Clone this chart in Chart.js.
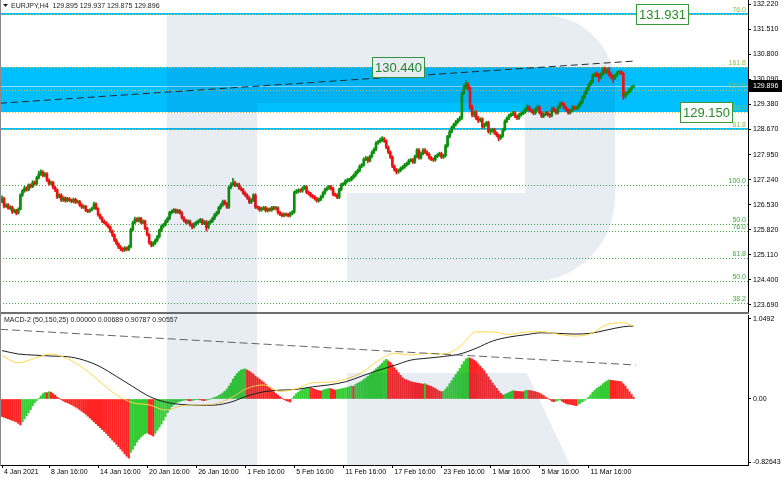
<!DOCTYPE html>
<html>
<head>
<meta charset="utf-8">
<title>EURJPY H4</title>
<script src="https://cdn.jsdelivr.net/npm/chart.js@4.4.1/dist/chart.umd.min.js"></script>
<style>
  body { margin: 0; background: #fff; }
  #wrap { position: relative; width: 782px; height: 478px; overflow: hidden; background: #fff; }
  #price, #macd, #mark { position: absolute; left: 0; }
  #price { top: 0; }
  #macd { top: 314px; }
  #mark { top: 0; pointer-events: none; }
  #sep { position: absolute; left: 0; top: 312px; width: 749px; height: 2px; background: #6f6f6f; }
  #edge { position: absolute; left: 0; top: 0; width: 1px; height: 466px; background: #8a8a8a; }
</style>
</head>
<body>
<div id="wrap">
  <canvas id="price" width="782" height="312"></canvas>
  <div id="sep"></div>
  <canvas id="macd" width="782" height="164"></canvas>
  <div id="edge"></div>
  <canvas id="mark" width="782" height="478"></canvas>
</div>
<script>
// EURJPY H4 candles, one value per bar (open = previous close)
const firstOpen = 126.62;
const closes = [
  126.70,126.48,126.52,126.43,126.46,126.33,126.37,126.29,126.40,126.80,
  126.92,127.00,126.95,127.09,127.04,127.17,127.12,127.30,127.40,127.46,
  127.36,127.40,127.22,127.12,127.16,127.02,126.95,126.75,126.80,126.66,
  126.72,126.64,126.70,126.66,126.62,126.68,126.60,126.62,126.52,126.46,
  126.48,126.36,126.34,126.38,126.42,126.55,126.42,126.24,126.16,126.06,
  126.02,125.96,125.90,125.78,125.67,125.52,125.42,125.33,125.28,125.24,
  125.30,125.26,125.34,125.82,126.02,126.12,126.08,126.14,126.02,126.06,
  125.86,125.68,125.45,125.38,125.44,125.52,125.62,125.80,125.92,125.96,
  126.06,126.14,126.30,126.34,126.38,126.32,126.36,126.30,126.16,126.08,
  126.02,126.06,125.96,125.90,125.98,126.02,126.06,126.10,126.00,126.04,
  125.88,126.02,126.06,126.14,126.24,126.30,126.44,126.52,126.62,126.56,
  126.46,127.02,127.10,127.15,127.08,127.10,127.00,126.96,126.86,126.80,
  126.72,126.60,126.66,126.80,126.46,126.44,126.38,126.42,126.44,126.36,
  126.40,126.38,126.44,126.42,126.44,126.30,126.26,126.22,126.26,126.24,
  126.22,126.28,126.32,126.88,126.90,126.94,126.92,127.00,127.04,126.88,
  126.84,126.78,126.75,126.70,126.64,126.68,126.75,126.86,126.96,127.00,
  127.04,126.98,126.82,126.80,126.74,126.96,127.10,127.12,127.20,127.23,
  127.24,127.30,127.36,127.44,127.50,127.62,127.66,127.82,127.85,127.78,
  127.90,128.02,128.10,128.28,128.32,128.36,128.40,128.34,128.16,128.02,
  127.88,127.62,127.52,127.46,127.50,127.56,127.60,127.66,127.70,127.78,
  127.80,127.74,127.90,128.08,127.86,127.98,128.08,128.02,127.96,127.86,
  127.82,127.80,127.90,127.94,127.98,127.88,127.92,128.20,128.46,128.60,
  128.72,128.80,128.88,128.94,128.99,129.70,129.88,129.96,129.84,129.30,
  129.08,129.14,128.98,128.92,128.96,128.74,128.80,128.86,128.60,128.64,
  128.66,128.56,128.50,128.42,128.48,128.66,128.90,128.98,129.06,129.10,
  129.13,129.04,128.99,129.08,129.12,129.16,129.24,129.30,129.22,129.18,
  129.13,129.24,129.30,129.14,129.04,129.10,129.14,129.08,129.06,129.26,
  129.20,129.14,129.30,129.40,129.38,129.28,129.22,129.14,129.20,129.30,
  129.26,129.28,129.36,129.44,129.58,129.70,129.82,129.94,130.02,130.20,
  130.22,130.20,130.14,130.24,130.36,130.30,130.34,130.22,130.16,130.12,
  130.20,130.28,130.30,130.26,129.60,129.68,129.72,129.80,129.86,129.896
];
const highs = [
  126.78,126.74,126.56,126.56,126.50,126.49,126.41,126.40,126.44,126.84,
  126.96,127.05,127.04,127.12,127.12,127.21,127.20,127.34,127.48,127.52,
  127.50,127.44,127.44,127.26,127.20,127.19,127.06,126.98,126.84,126.84,
  126.76,126.75,126.74,126.73,126.69,126.72,126.71,126.66,126.65,126.56,
  126.52,126.51,126.40,126.41,126.46,126.60,126.58,126.45,126.27,126.19,
  126.10,126.05,125.99,125.93,125.81,125.70,125.56,125.45,125.37,125.31,
  125.34,125.33,125.38,125.86,126.06,126.18,126.16,126.18,126.17,126.10,
  126.09,125.89,125.71,125.49,125.48,125.56,125.66,125.84,125.96,126.00,
  126.10,126.18,126.34,126.38,126.42,126.41,126.40,126.39,126.33,126.19,
  126.11,126.10,126.09,126.00,126.02,126.06,126.10,126.14,126.13,126.08,
  126.08,126.06,126.10,126.18,126.28,126.34,126.48,126.56,126.66,126.66,
  126.60,127.06,127.16,127.28,127.20,127.14,127.14,127.04,126.99,126.90,
  126.84,126.76,126.70,126.84,126.84,126.50,126.48,126.46,126.48,126.48,
  126.44,126.44,126.48,126.48,126.48,126.47,126.34,126.30,126.30,126.29,
  126.28,126.32,126.36,126.92,126.96,126.98,126.98,127.04,127.08,127.07,
  126.92,126.88,126.82,126.79,126.74,126.72,126.79,126.90,127.00,127.04,
  127.08,127.08,127.02,126.86,126.84,127.00,127.14,127.16,127.24,127.27,
  127.28,127.34,127.40,127.48,127.54,127.66,127.70,127.86,127.90,127.89,
  127.94,128.06,128.14,128.32,128.36,128.42,128.46,128.44,128.37,128.20,
  128.06,127.92,127.66,127.56,127.54,127.60,127.64,127.70,127.74,127.82,
  127.84,127.84,127.94,128.12,128.12,128.02,128.12,128.12,128.06,128.00,
  127.90,127.86,127.94,127.98,128.02,128.02,127.96,128.24,128.50,128.64,
  128.76,128.84,128.92,128.98,129.04,129.74,129.94,130.05,130.00,129.88,
  129.36,129.18,129.20,129.04,129.00,129.00,128.84,128.90,128.90,128.68,
  128.70,128.70,128.60,128.54,128.52,128.70,128.94,129.02,129.10,129.14,
  129.18,129.17,129.08,129.12,129.16,129.20,129.28,129.36,129.34,129.26,
  129.22,129.28,129.36,129.34,129.18,129.14,129.18,129.18,129.12,129.30,
  129.30,129.24,129.34,129.44,129.46,129.42,129.32,129.26,129.24,129.34,
  129.34,129.32,129.40,129.48,129.62,129.74,129.86,129.98,130.06,130.24,
  130.28,130.30,130.26,130.28,130.42,130.44,130.40,130.42,130.28,130.22,
  130.24,130.32,130.34,130.34,130.30,129.74,129.76,129.84,129.90,129.937
];
const lows = [
  126.58,126.44,126.45,126.40,126.39,126.28,126.30,126.24,126.26,126.38,
  126.76,126.88,126.91,126.92,127.00,127.01,127.08,127.09,127.26,127.36,
  127.32,127.32,127.18,127.08,127.09,126.98,126.90,126.70,126.72,126.62,
  126.62,126.60,126.61,126.62,126.58,126.58,126.56,126.57,126.48,126.42,
  126.42,126.33,126.30,126.31,126.35,126.40,126.39,126.20,126.12,126.02,
  125.98,125.92,125.86,125.74,125.62,125.48,125.38,125.28,125.22,125.19,
  125.20,125.22,125.22,125.30,125.78,125.98,126.04,126.04,125.98,125.98,
  125.82,125.64,125.41,125.33,125.34,125.40,125.48,125.58,125.76,125.88,
  125.92,126.02,126.10,126.26,126.30,126.28,126.28,126.26,126.12,126.04,
  125.98,125.98,125.92,125.84,125.86,125.94,125.98,126.02,125.96,125.96,
  125.78,125.84,125.98,126.02,126.10,126.20,126.26,126.40,126.48,126.52,
  126.42,126.42,126.98,127.06,127.04,127.04,126.96,126.92,126.82,126.76,
  126.68,126.56,126.56,126.62,126.42,126.40,126.34,126.34,126.38,126.32,
  126.32,126.34,126.34,126.38,126.38,126.26,126.22,126.18,126.18,126.20,
  126.18,126.18,126.24,126.28,126.84,126.86,126.88,126.88,126.96,126.84,
  126.80,126.74,126.71,126.66,126.60,126.60,126.64,126.72,126.82,126.92,
  126.96,126.94,126.78,126.76,126.70,126.70,126.92,127.06,127.08,127.16,
  127.18,127.20,127.26,127.32,127.40,127.46,127.58,127.62,127.78,127.72,
  127.74,127.86,127.98,128.06,128.24,128.28,128.32,128.30,128.12,127.98,
  127.84,127.58,127.48,127.40,127.42,127.46,127.52,127.56,127.62,127.66,
  127.74,127.70,127.70,127.86,127.82,127.82,127.94,127.98,127.92,127.82,
  127.78,127.76,127.76,127.86,127.90,127.84,127.84,127.88,128.16,128.42,
  128.56,128.68,128.76,128.84,128.90,128.95,129.66,129.82,129.78,129.24,
  129.02,129.02,128.94,128.86,128.88,128.70,128.70,128.76,128.56,128.52,
  128.58,128.52,128.46,128.34,128.38,128.44,128.62,128.86,128.94,129.02,
  129.06,129.00,128.94,128.95,129.04,129.08,129.12,129.20,129.18,129.14,
  129.08,129.09,129.20,129.10,129.00,129.00,129.06,129.04,129.00,129.02,
  129.16,129.10,129.10,129.26,129.34,129.24,129.18,129.10,129.10,129.16,
  129.22,129.22,129.24,129.32,129.40,129.54,129.66,129.78,129.90,129.98,
  130.16,130.16,130.02,130.10,130.20,130.26,130.24,130.18,130.10,130.00,
  130.08,130.16,130.24,130.22,129.52,129.56,129.64,129.70,129.76,129.875
];

const priceTicks = [132.22, 131.51, 130.80, 130.09, 129.38, 128.67, 127.95, 127.24, 126.53, 125.82, 125.11, 124.40, 123.69];
const priceTickLabels = ['132.220','131.510','130.800','130.090','129.380','128.670','127.950','127.240','126.530','125.820','125.110','124.400','123.690'];

const timeTicks = [0, 23, 47, 71, 95, 119, 143, 167, 191, 215, 239, 263, 287];
const timeLabels = ['4 Jan 2021','8 Jan 16:00','14 Jan 16:00','20 Jan 16:00','26 Jan 16:00','1 Feb 16:00',
  '5 Feb 16:00','11 Feb 16:00','17 Feb 16:00','23 Feb 16:00','1 Mar 16:00','5 Mar 16:00','11 Mar 16:00'];

// drawn objects on the price window
const zone = [129.15, 130.44];
const zoneEdges = [131.931, 128.68];
const upperFib = [131.931, 130.44, 129.80, 129.15, 128.68];
const upperFibLabels = ['76.0','161.8','150.0','138.2','61.8'];
const lowerFib = [127.09, 125.98, 125.79, 125.02, 124.37, 123.73];
const lowerFibLabels = ['100.0','50.0','76.0','61.8','50.0','38.2'];
const targets = [131.931, 130.44, 129.15];
const targetLabels = ['131.931','130.440','129.150'];
const lastPrice = 129.896;
const priceTrend = [{x: -1, y: 129.41}, {x: 310, y: 130.61}];

// MACD-2 (50,150,25)
const histogram = [
  -0.23,-0.24,-0.25,-0.26,-0.27,-0.28,-0.29,-0.30,-0.32,-0.34,
  -0.30,-0.26,-0.22,-0.18,-0.14,-0.09,-0.05,-0.02,0.01,0.04,
  0.07,0.085,0.083,0.095,0.090,0.07,0.05,0.025,0.005,-0.01,
  -0.025,-0.04,-0.05,-0.06,-0.075,-0.09,-0.105,-0.12,-0.14,-0.16,
  -0.18,-0.20,-0.225,-0.25,-0.275,-0.30,-0.325,-0.35,-0.375,-0.40,
  -0.425,-0.45,-0.48,-0.51,-0.54,-0.565,-0.595,-0.625,-0.655,-0.685,
  -0.72,-0.75,-0.775,-0.70,-0.66,-0.61,-0.565,-0.53,-0.50,-0.475,
  -0.455,-0.445,-0.46,-0.47,-0.485,-0.45,-0.41,-0.37,-0.33,-0.28,
  -0.23,-0.18,-0.14,-0.10,-0.075,-0.055,-0.04,-0.03,-0.022,-0.015,
  -0.012,-0.018,-0.024,-0.02,-0.012,-0.006,-0.003,-0.01,-0.018,-0.022,
  -0.015,-0.008,0.0,0.01,0.02,0.03,0.045,0.06,0.08,0.10,
  0.13,0.17,0.21,0.26,0.30,0.335,0.36,0.38,0.39,0.395,
  0.38,0.365,0.345,0.325,0.30,0.28,0.26,0.24,0.22,0.195,
  0.17,0.145,0.12,0.095,0.07,0.05,0.03,0.01,-0.005,-0.02,
  -0.03,-0.04,0.005,0.04,0.07,0.09,0.11,0.125,0.14,0.15,
  0.153,0.148,0.140,0.128,0.118,0.110,0.105,0.115,0.125,0.132,
  0.138,0.135,0.125,0.118,0.122,0.128,0.134,0.140,0.146,0.152,
  0.160,0.170,0.165,0.19,0.205,0.22,0.235,0.255,0.275,0.295,
  0.32,0.345,0.37,0.395,0.42,0.445,0.47,0.50,0.52,0.50,
  0.48,0.45,0.41,0.38,0.345,0.31,0.28,0.26,0.25,0.24,
  0.228,0.222,0.215,0.210,0.206,0.200,0.196,0.200,0.185,0.175,
  0.165,0.15,0.138,0.12,0.104,0.096,0.102,0.13,0.16,0.20,
  0.24,0.28,0.32,0.36,0.40,0.45,0.49,0.525,0.54,0.538,
  0.525,0.51,0.49,0.46,0.43,0.40,0.37,0.33,0.29,0.25,
  0.21,0.175,0.14,0.105,0.075,0.052,0.06,0.072,0.085,0.097,
  0.108,0.104,0.100,0.098,0.096,0.095,0.108,0.115,0.112,0.108,
  0.100,0.096,0.088,0.075,0.060,0.045,0.025,0.008,-0.010,-0.028,
  -0.036,-0.028,-0.018,-0.012,-0.030,-0.045,-0.058,-0.066,-0.070,-0.076,
  -0.082,-0.087,-0.070,-0.055,-0.035,-0.018,0.000,0.025,0.055,0.090,
  0.115,0.14,0.158,0.175,0.20,0.22,0.238,0.25,0.246,0.242,
  0.238,0.235,0.232,0.226,0.20,0.17,0.13,0.095,0.06,0.025
];
const lineBars = [0,8,16,24,32,40,48,56,64,72,80,88,96,104,112,120,128,136,144,152,
  160,168,176,184,192,200,208,216,224,232,240,248,256,264,272,280,288,296,304,309];
const macdMain = [0.635,0.59,0.575,0.563,0.555,0.51,0.424,0.296,0.163,0.035,
  -0.04,-0.073,-0.083,-0.08,-0.04,0.04,0.095,0.116,0.126,0.160,
  0.185,0.225,0.30,0.375,0.44,0.51,0.535,0.557,0.59,0.665,
  0.76,0.812,0.842,0.868,0.861,0.852,0.862,0.905,0.948,0.957];
const macdSignal = [0.57,0.475,0.535,0.59,0.53,0.40,0.225,0.055,-0.05,-0.077,
  -0.144,-0.09,-0.079,-0.065,0.015,0.14,0.184,0.10,0.135,0.212,
  0.22,0.26,0.345,0.50,0.60,0.577,0.599,0.59,0.686,0.88,
  0.88,0.845,0.878,0.883,0.85,0.826,0.855,0.975,1.0,0.957];
const macdTrend = [{x: -1, y: 0.914}, {x: 310, y: 0.446}];
const macdTicks = [1.0492, 0, -0.82643];
const macdTickLabels = ['1.0492','0.00','-0.82643'];

const FONT = '"Liberation Sans", Arial, sans-serif';
Chart.defaults.font.family = FONT;
Chart.defaults.font.size = 7;

const opens = closes.map((c, i) => i === 0 ? firstOpen : closes[i - 1]);
const candleColors = closes.map((c, i) => c >= opens[i] ? '#0a8f0a' : '#f01010');
const histColors = histogram.map((v, i) => i > 0 && v > histogram[i - 1] ? '#33cc33' : '#ff2424');

function hline(ctx, a, py, color, dash) {
  ctx.beginPath();
  ctx.setLineDash(dash || []);
  ctx.strokeStyle = color;
  ctx.lineWidth = 1;
  ctx.moveTo(a.left, Math.round(py) + 0.5);
  ctx.lineTo(a.right, Math.round(py) + 0.5);
  ctx.stroke();
  ctx.setLineDash([]);
}

const priceObjects = {
  id: 'priceObjects',
  beforeDatasetsDraw(chart) {
    const {ctx, chartArea: a, scales: {y}} = chart;
    const py = v => y.getPixelForValue(v);
    ctx.save();
    ctx.fillStyle = '#00bfff';
    ctx.fillRect(a.left, Math.round(py(zone[1])), a.right - a.left, Math.round(py(zone[0]) - py(zone[1])));
    zoneEdges.forEach(v => ctx.fillRect(a.left, Math.round(py(v)) - 1, a.right - a.left, 2));
    hline(ctx, a, py(lastPrice), 'rgba(255,255,255,0.55)');

    ctx.font = '7px ' + FONT;
    ctx.textAlign = 'right';
    ctx.textBaseline = 'bottom';
    upperFib.forEach((v, k) => {
      hline(ctx, a, py(v), '#e2c24e', [1, 2]);
      ctx.fillStyle = '#8cbf52';
      ctx.fillText(upperFibLabels[k], a.right - 2, Math.round(py(v)));
    });
    lowerFib.forEach((v, k) => {
      hline(ctx, a, py(v), '#49a949', [1, 2]);
      ctx.fillStyle = '#45a845';
      ctx.fillText(lowerFibLabels[k], a.right - 2, Math.round(py(v)));
    });
    ctx.restore();
  },
  afterDraw(chart) {
    const {ctx, chartArea: a, scales: {x, y}} = chart;
    ctx.save();
    // level tags
    const tagAt = [310.2, 181, 331.7];
    ctx.font = '13px ' + FONT;
    ctx.textAlign = 'left';
    ctx.textBaseline = 'middle';
    targets.forEach((v, k) => {
      const x0 = Math.round(x.getPixelForValue(tagAt[k])) + 0.5;
      const yc = y.getPixelForValue(v);
      const w = Math.round(ctx.measureText(targetLabels[k]).width) + 5;
      const top = Math.round(yc - 10) + 0.5;
      ctx.fillStyle = '#fff';
      ctx.fillRect(x0, top, w, 20);
      ctx.strokeStyle = '#3a9a3a';
      ctx.lineWidth = 1;
      ctx.strokeRect(x0, top, w, 20);
      ctx.fillStyle = '#2a8a2a';
      ctx.fillText(targetLabels[k], x0 + 2.5, yc + 1);
    });
    // last price tag on the axis
    const yl = Math.round(y.getPixelForValue(lastPrice));
    ctx.fillStyle = '#000';
    ctx.fillRect(a.right + 1, yl - 6, 33, 12);
    ctx.fillStyle = '#fff';
    ctx.font = '7px ' + FONT;
    ctx.fillText(lastPrice.toFixed(3), a.right + 5, yl);
    // header
    ctx.fillStyle = '#222';
    ctx.beginPath();
    ctx.moveTo(3, 4); ctx.lineTo(8, 4); ctx.lineTo(5.5, 7); ctx.closePath();
    ctx.fill();
    ctx.fillText('EURJPY,H4  129.895 129.937 129.875 129.896', 11, 6);
    ctx.restore();
  }
};

const macdObjects = {
  id: 'macdObjects',
  afterDraw(chart) {
    const {ctx} = chart;
    ctx.save();
    ctx.font = '7px ' + FONT;
    ctx.fillStyle = '#222';
    ctx.textBaseline = 'middle';
    ctx.fillText('MACD-2 (50,150,25) 0.00000 0.00689 0.90787 0.90557', 4, 6);
    ctx.restore();
  }
};

const xRange = {type: 'linear', min: -0.98, max: 365, offset: false, grid: {offset: false}};

new Chart(document.getElementById('price'), {
  type: 'bar',
  data: {
    datasets: [
      {type: 'line', data: priceTrend, borderColor: '#2a2a2a', borderWidth: 1, borderDash: [7, 4],
        pointRadius: 0, fill: false},
      {data: closes.map((c, i) => ({x: i, y: [opens[i], c]})), backgroundColor: candleColors,
        barThickness: 2, minBarLength: 1, grouped: false},
      {data: closes.map((c, i) => ({x: i, y: [lows[i], highs[i]]})), backgroundColor: candleColors,
        barThickness: 1, grouped: false}
    ]
  },
  options: {
    responsive: false,
    animation: false,
    events: [],
    layout: {padding: 0},
    plugins: {legend: {display: false}, tooltip: {enabled: false}},
    scales: {
      x: Object.assign({}, xRange, {display: false}),
      y: {
        position: 'right', min: 123.481, max: 132.342,
        afterBuildTicks: s => { s.ticks = priceTicks.map(v => ({value: v})); },
        afterFit: s => { s.width = 34; s.paddingTop = 0; s.paddingBottom = 0; },
        ticks: {callback: (v, i) => priceTickLabels[i], color: '#000', padding: 2, autoSkip: false},
        grid: {drawOnChartArea: false, tickLength: 3, color: '#000'},
        border: {color: '#000'}
      }
    }
  },
  plugins: [priceObjects]
});

new Chart(document.getElementById('macd'), {
  type: 'bar',
  data: {
    datasets: [
      {type: 'line', data: macdTrend, borderColor: '#666', borderWidth: 1, borderDash: [8, 4],
        pointRadius: 0, fill: false},
      {type: 'line', data: lineBars.map((b, k) => ({x: b, y: macdSignal[k]})), borderColor: '#ffd84a',
        borderWidth: 1, pointRadius: 0, fill: false, cubicInterpolationMode: 'monotone'},
      {type: 'line', data: lineBars.map((b, k) => ({x: b, y: macdMain[k]})), borderColor: '#1e1e1e',
        borderWidth: 1, pointRadius: 0, fill: false, cubicInterpolationMode: 'monotone'},
      {data: histogram.map((v, i) => ({x: i, y: v})), backgroundColor: histColors,
        barThickness: 1.6, grouped: false}
    ]
  },
  options: {
    responsive: false,
    animation: false,
    events: [],
    layout: {padding: {top: 1}},
    plugins: {legend: {display: false}, tooltip: {enabled: false}},
    scales: {
      x: Object.assign({}, xRange, {
        afterBuildTicks: s => { s.ticks = timeTicks.map(v => ({value: v})); },
        afterFit: s => { s.height = 13; s.paddingLeft = 0; s.paddingRight = 0; },
        ticks: {callback: (v, i) => timeLabels[i], align: 'start', labelOffset: 2, maxRotation: 0,
          autoSkip: false, color: '#000', padding: 0},
        grid: {offset: false, drawOnChartArea: false, tickLength: 3, color: '#000'},
        border: {color: '#000'}
      }),
      y: {
        position: 'right', min: -0.8656, max: 1.1016,
        afterBuildTicks: s => { s.ticks = macdTicks.map(v => ({value: v})); },
        afterFit: s => { s.width = 34; s.paddingTop = 0; s.paddingBottom = 0; },
        ticks: {callback: (v, i) => macdTickLabels[i], color: '#000', padding: 2, autoSkip: false},
        grid: {drawOnChartArea: false, tickLength: 3, color: '#000'},
        border: {color: '#000'}
      }
    }
  },
  plugins: [macdObjects]
});

// broker logo watermark over both windows
const m = document.getElementById('mark').getContext('2d');
m.fillStyle = 'rgba(25,65,135,0.1)';
m.beginPath();
m.moveTo(167, 15);
m.lineTo(543, 15);
m.arc(543, 87, 72, -Math.PI / 2, 0);
m.lineTo(615, 197);
m.arc(530, 197, 85, 0, Math.PI / 2);
m.lineTo(347, 282);
m.lineTo(347, 193);
m.lineTo(525, 193);
m.lineTo(525, 103);
m.lineTo(257, 103);
m.lineTo(257, 465);
m.lineTo(167, 465);
m.closePath();
m.moveTo(347, 373);
m.lineTo(527, 373);
m.lineTo(570, 465);
m.lineTo(347, 465);
m.closePath();
m.fill();
</script>
</body>
</html>
